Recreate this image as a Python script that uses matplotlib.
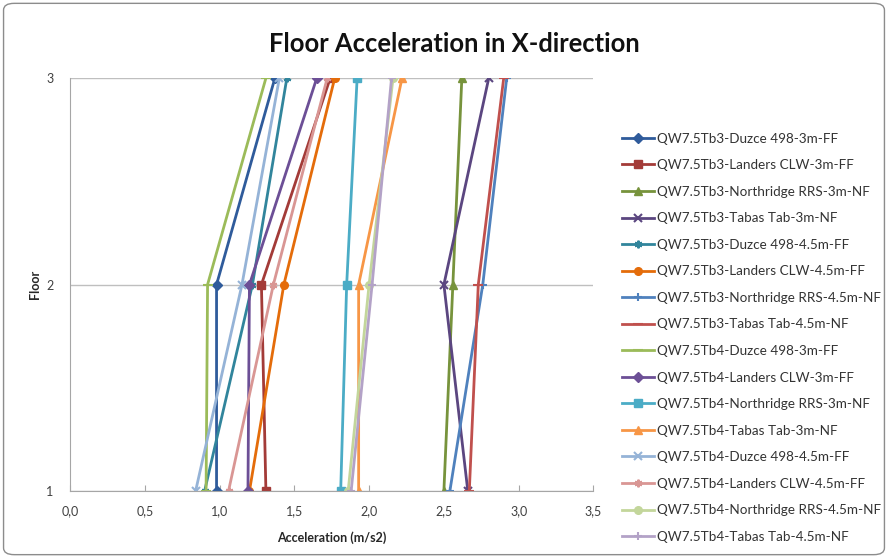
import matplotlib.pyplot as plt
from matplotlib.patches import FancyBboxPatch

plt.rcParams['font.family'] = ['Lato', 'DejaVu Sans']

floors = [1, 2, 3]

labels = [
    "QW7.5Tb3-Duzce 498-3m-FF",
    "QW7.5Tb3-Landers CLW-3m-FF",
    "QW7.5Tb3-Northridge RRS-3m-NF",
    "QW7.5Tb3-Tabas Tab-3m-NF",
    "QW7.5Tb3-Duzce 498-4.5m-FF",
    "QW7.5Tb3-Landers CLW-4.5m-FF",
    "QW7.5Tb3-Northridge RRS-4.5m-NF",
    "QW7.5Tb3-Tabas Tab-4.5m-NF",
    "QW7.5Tb4-Duzce 498-3m-FF",
    "QW7.5Tb4-Landers CLW-3m-FF",
    "QW7.5Tb4-Northridge RRS-3m-NF",
    "QW7.5Tb4-Tabas Tab-3m-NF",
    "QW7.5Tb4-Duzce 498-4.5m-FF",
    "QW7.5Tb4-Landers CLW-4.5m-FF",
    "QW7.5Tb4-Northridge RRS-4.5m-NF",
    "QW7.5Tb4-Tabas Tab-4.5m-NF",
]

# acceleration at floor 1, 2, 3 (m/s2)
tb3_duzce_3m = [0.98, 0.98, 1.37]
tb3_landers_3m = [1.31, 1.28, 1.74]
tb3_northridge_3m = [2.50, 2.56, 2.62]
tb3_tabas_3m = [2.66, 2.50, 2.80]
tb3_duzce_45m = [0.90, 1.22, 1.45]
tb3_landers_45m = [1.20, 1.43, 1.77]
tb3_northridge_45m = [2.54, 2.76, 2.92]
tb3_tabas_45m = [2.67, 2.73, 2.90]
tb4_duzce_3m = [0.91, 0.92, 1.31]
tb4_landers_3m = [1.19, 1.20, 1.65]
tb4_northridge_3m = [1.81, 1.85, 1.92]
tb4_tabas_3m = [1.93, 1.93, 2.22]
tb4_duzce_45m = [0.84, 1.15, 1.40]
tb4_landers_45m = [1.06, 1.36, 1.72]
tb4_northridge_45m = [1.86, 2.00, 2.16]
tb4_tabas_45m = [1.88, 2.02, 2.15]

series = [tb3_duzce_3m, tb3_landers_3m, tb3_northridge_3m, tb3_tabas_3m,
          tb3_duzce_45m, tb3_landers_45m, tb3_northridge_45m, tb3_tabas_45m,
          tb4_duzce_3m, tb4_landers_3m, tb4_northridge_3m, tb4_tabas_3m,
          tb4_duzce_45m, tb4_landers_45m, tb4_northridge_45m, tb4_tabas_45m]

colors = ['#2F5B9B', '#A33B38', '#77933C', '#5B4680', '#31859C', '#E46C0A',
          '#4F81BD', '#C0504D', '#9BBB59', '#6C4F96', '#4BACC6', '#F79646',
          '#95B3D7', '#D99694', '#C3D69B', '#B3A2C7']
star = (6, 2, 0)
markers = ['D', 's', '^', 'x', star, 'o', '+', '_', '_', 'D', 's', '^',
           'x', star, 'o', '+']

fig = plt.figure(figsize=(8.88, 5.58), dpi=100)
ax = fig.add_axes([0.0788, 0.120, 0.5895, 0.740])

for vals, lab, c, m in zip(series, labels, colors, markers):
    ms = 5.5
    if m == '_':
        ms = 7
    ax.plot(vals, floors, color=c, lw=2, marker=m, markersize=ms,
            markeredgewidth=1.5 if m in ('x', '+', '_', star) else 1,
            markeredgecolor=c, label=lab)

ax.set_xlim(0, 3.5)
ax.set_ylim(1, 3)
ax.set_xticks([0, 0.5, 1.0, 1.5, 2.0, 2.5, 3.0, 3.5])
ax.set_xticklabels(['0,0', '0,5', '1,0', '1,5', '2,0', '2,5', '3,0', '3,5'])
ax.set_yticks(floors)
ax.yaxis.grid(True, color='#BFBFBF', lw=1)
ax.set_axisbelow(True)
for side in ['top', 'right']:
    ax.spines[side].set_visible(False)
for side in ['left', 'bottom']:
    ax.spines[side].set_color('#A6A6A6')
ax.tick_params(axis='x', direction='in', length=4, color='#A6A6A6',
               labelsize=9, labelcolor='#404040', pad=10)
ax.tick_params(axis='y', length=0, labelsize=9, labelcolor='#404040', pad=12)

ax.set_xlabel('Acceleration (m/s2)', fontsize=9, fontweight='bold',
              color='#262626', labelpad=10)
ax.set_ylabel('Floor', fontsize=9, fontweight='bold', color='#262626',
              labelpad=4)
fig.text(0.512, 0.922, 'Floor Acceleration in X-direction', ha='center',
         va='center', fontsize=18.4, fontweight='bold', color='#111111')

fig.legend(loc='upper left', bbox_to_anchor=(0.694, 0.772), frameon=False,
           fontsize=9.7, handlelength=2.4, handletextpad=0.25,
           labelspacing=1.08, borderaxespad=0, labelcolor='#333333')

border = FancyBboxPatch((0.004, 0.006), 0.992, 0.988,
                        boxstyle='round,pad=0,rounding_size=0.012',
                        transform=fig.transFigure, fill=False,
                        edgecolor='#8C8C8C', lw=1)
fig.patches.append(border)

fig.savefig('out.png', dpi=100)
